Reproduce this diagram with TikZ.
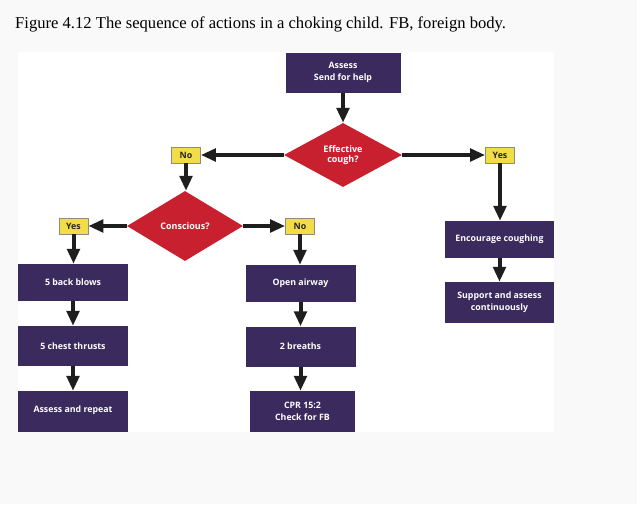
\documentclass[tikz,border=0pt]{standalone}
\usepackage{fontspec}
\setmainfont{Liberation Serif}
\newfontfamily\boxfont{Open Sans}
\usetikzlibrary{shapes.geometric,arrows.meta}
\definecolor{bgc}{HTML}{F9F9F9}
\definecolor{purp}{HTML}{3A2A5E}
\definecolor{dred}{HTML}{C8202F}
\definecolor{ylw}{HTML}{F2DC48}
\definecolor{ygray}{HTML}{8E8C7C}
\definecolor{arr}{HTML}{1E1E1E}
\tikzset{
  actbox/.style={rectangle, fill=purp, text=white, font=\boxfont\bfseries\fontsize{8.8}{12}\selectfont, align=center, inner sep=0pt, minimum width=110pt, minimum height=38pt},
  decide/.style={diamond, fill=dred, text=white, font=\boxfont\bfseries\fontsize{9}{10}\selectfont, align=center, inner sep=0pt, minimum width=118pt, minimum height=64pt},
  tag/.style={rectangle, fill=ylw, draw=ygray, line width=0.8pt, font=\boxfont\bfseries\fontsize{8.8}{10}\selectfont, text=black!85, inner sep=0pt, minimum width=29pt, minimum height=16pt},
  flow/.style={draw=arr, line width=4pt, -{Triangle[length=15pt,width=12.5pt]}}
}
\begin{document}
\begin{tikzpicture}[x=1pt,y=-1pt]
\fill[bgc] (0,0) rectangle (637,504);
\useasboundingbox (0,0) rectangle (637,504);
\fill[white] (18,52) rectangle (554,432);
\node[anchor=base west, font=\fontsize{16.6}{19}\selectfont, inner sep=0pt] (title) at (15,28) {Figure 4.12 The sequence of actions in a choking child. FB, foreign body.};
% top
\node[actbox, minimum width=115pt, minimum height=40pt] (assess) at (343,72.5) {Assess\\Send for help};
\node[decide] (cough) at (343,155) {Effective\\cough?};
\node[tag] (no1) at (186,155) {No};
\node[tag] (yes1) at (500,155) {Yes};
\node[decide, minimum width=116pt, minimum height=70pt] (consc) at (185,226) {Conscious?};
\node[tag] (yes2) at (73.5,226) {Yes};
\node[tag] (no2) at (300,226) {No};
% left column
\node[actbox, minimum height=37pt] (back) at (73,282.5) {5 back blows};
\node[actbox, minimum height=40pt] (chest) at (73,346) {5 chest thrusts};
\node[actbox, minimum height=41pt] (repeat) at (73,411.5) {\raisebox{4pt}{Assess and repeat}};
% middle column
\node[actbox, minimum height=37pt] (airway) at (300.5,283.5) {Open airway};
\node[actbox, minimum height=40pt] (breaths) at (300.5,346.5) {2 breaths};
\node[actbox, minimum width=105pt, minimum height=41pt] (cpr) at (302.5,411.5) {CPR 15:2\\Check for FB};
% right column
\node[actbox, minimum width=109pt, minimum height=37pt] (encour) at (499.5,239.5) {Encourage coughing};
\node[actbox, minimum width=109pt, minimum height=41pt] (support) at (499.5,302.5) {Support and assess\\continuously};
% connectors
\draw[flow] (assess.south) -- (cough.north);
\draw[flow] (cough.west) -- (no1.east);
\draw[flow] (cough.east) -- (yes1.west);
\draw[flow] (no1.south) -- (no1.south |- consc.north);
\draw[flow] (yes1.south) -- (encour.north -| yes1.south);
\draw[flow] (encour.south) -- (support.north);
\draw[flow] (consc.west) -- (yes2.east);
\draw[flow] (consc.east) -- (no2.west);
\draw[flow] (yes2.south) -- (back.north -| yes2.south);
\draw[flow] (back.south) -- (chest.north);
\draw[flow] (chest.south) -- (repeat.north);
\draw[flow] (no2.south) -- (airway.north -| no2.south);
\draw[flow] (airway.south) -- (breaths.north);
\draw[flow] (breaths.south) -- (cpr.north -| breaths.south);
\end{tikzpicture}
\end{document}
